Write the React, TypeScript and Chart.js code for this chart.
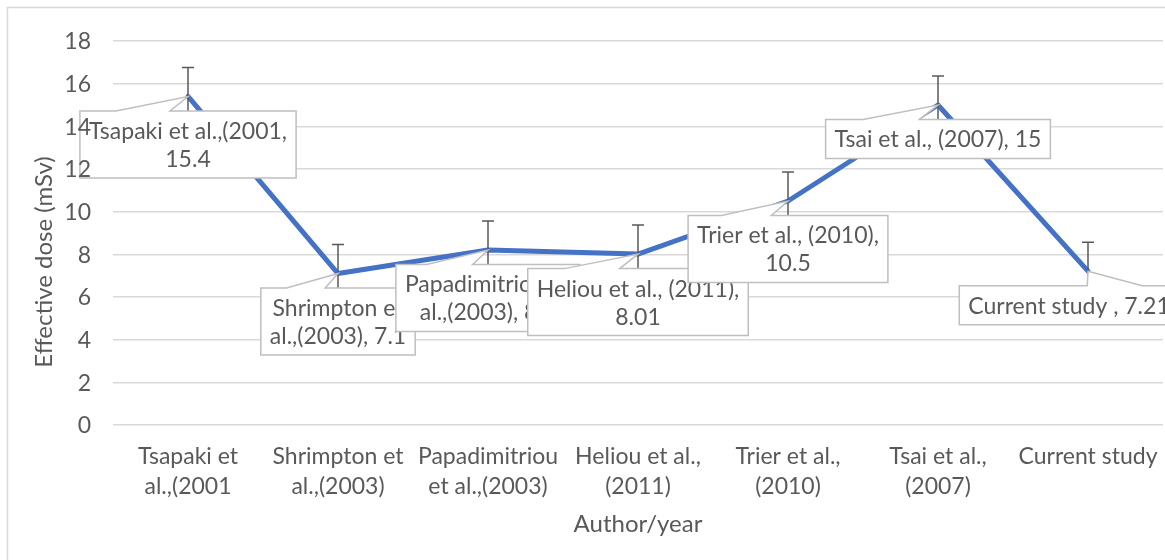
import React, { useEffect, useRef } from "react";
import { Chart, registerables } from "chart.js";

Chart.register(...registerables);

// ---- data ----
const categories = [
  "Tsapaki et al.,(2001",
  "Shrimpton et al.,(2003)",
  "Papadimitriou et al.,(2003)",
  "Heliou et al., (2011)",
  "Trier et al., (2010)",
  "Tsai et al., (2007)",
  "Current study ",
];
const tickLines = [
  ["Tsapaki et", "al.,(2001"],
  ["Shrimpton et", "al.,(2003)"],
  ["Papadimitriou", "et al.,(2003)"],
  ["Heliou et al.,", "(2011)"],
  ["Trier et al.,", "(2010)"],
  ["Tsai et al.,", "(2007)"],
  ["Current study"],
];
const doses = [15.4, 7.1, 8.2, 8.01, 10.5, 15, 7.21];
const errors = [1.36, 1.36, 1.36, 1.36, 1.36, 1.36, 1.36];
const yMin = 0;
const yMax = 18;
const yStep = 2;
const xTitle = "Author/year";
const yTitle = "Effective dose (mSv)";

// ---- styles ----
const FONT = "Lato, 'Noto Sans', sans-serif";
const TEXT = "#595959";
const GRID = "#d9d9d9";
const LINE = "#4472C4";
const calloutShift = [0, 0, 0, 0, 0, 0, -19];

function wrap(ctx: CanvasRenderingContext2D, text: string, maxW: number) {
  const words = text.split(" ");
  const lines: string[] = [];
  let cur = "";
  for (const w of words) {
    const t = cur ? cur + " " + w : w;
    if (cur && ctx.measureText(t).width > maxW) {
      lines.push(cur);
      cur = w;
    } else cur = t;
  }
  if (cur) lines.push(cur);
  return lines;
}

const overlay = {
  id: "overlay",
  beforeDraw(chart: any) {
    const ctx = chart.ctx;
    ctx.save();
    ctx.fillStyle = "#fff";
    ctx.fillRect(0, 0, chart.width, chart.height);
    ctx.strokeStyle = GRID;
    ctx.lineWidth = 1.5;
    ctx.strokeRect(7.5, 7.5, chart.width + 50, chart.height + 50);
    ctx.restore();
  },
  afterDatasetsDraw(chart: any) {
    const ctx: CanvasRenderingContext2D = chart.ctx;
    const xs = chart.scales.x;
    const ys = chart.scales.y;
    ctx.save();
    // error bars
    ctx.strokeStyle = "#595959";
    ctx.lineWidth = 1.5;
    doses.forEach((v, i) => {
      const x = xs.getPixelForValue(i);
      const yt = ys.getPixelForValue(v + errors[i]);
      const yb = ys.getPixelForValue(v - errors[i]);
      ctx.beginPath();
      ctx.moveTo(x, yt);
      ctx.lineTo(x, yb);
      ctx.moveTo(x - 6, yt);
      ctx.lineTo(x + 6, yt);
      ctx.moveTo(x - 6, yb);
      ctx.lineTo(x + 6, yb);
      ctx.stroke();
    });
    // callouts
    ctx.font = `23px ${FONT}`;
    const lineH = 28;
    const padX = 9;
    const padY = 5.5;
    const gap = 14.5;
    doses.forEach((v, i) => {
      const tipX = xs.getPixelForValue(i);
      const tipY = ys.getPixelForValue(v);
      const lines = wrap(ctx, `${categories[i]}, ${v}`, 222);
      const tw = Math.max(...lines.map((l) => ctx.measureText(l).width));
      const w = tw + 2 * padX;
      const h = lines.length * lineH + 2 * padY;
      const cx = tipX + calloutShift[i];
      const left = cx - w / 2;
      const top = tipY + gap;
      const dxPos = tipX - cx;
      const g1 = dxPos > 0 ? 7 : 2;
      const g2 = dxPos > 0 ? 10 : 5;
      const x1 = left + (w * g1) / 12;
      const x2 = left + (w * g2) / 12;
      ctx.beginPath();
      ctx.moveTo(left, top);
      ctx.lineTo(x1, top);
      ctx.lineTo(tipX, tipY);
      ctx.lineTo(x2, top);
      ctx.lineTo(left + w, top);
      ctx.lineTo(left + w, top + h);
      ctx.lineTo(left, top + h);
      ctx.closePath();
      ctx.fillStyle = "#fff";
      ctx.fill();
      ctx.strokeStyle = "#bfbfbf";
      ctx.lineWidth = 1.5;
      ctx.stroke();
      ctx.fillStyle = TEXT;
      ctx.textAlign = "center";
      ctx.textBaseline = "middle";
      lines.forEach((l, k) => {
        ctx.fillText(l, cx, top + padY + lineH / 2 + k * lineH + 1);
      });
    });
    ctx.restore();
  },
  afterDraw(chart: any) {
    const ctx: CanvasRenderingContext2D = chart.ctx;
    const ca = chart.chartArea;
    const ys = chart.scales.y;
    ctx.save();
    ctx.fillStyle = TEXT;
    // y tick labels drawn on top of the callouts
    ctx.font = `23px ${FONT}`;
    ctx.textAlign = "right";
    ctx.textBaseline = "middle";
    ys.ticks.forEach((t: any) => {
      ctx.fillText(String(t.value), ca.left - 22, ys.getPixelForValue(t.value) + 1);
    });
    // axis titles
    ctx.font = `24px ${FONT}`;
    ctx.textAlign = "center";
    ctx.fillText(xTitle, (ca.left + ca.right) / 2, ca.bottom + 99);
    ctx.translate(44, (ca.top + ca.bottom) / 2 + 29);
    ctx.rotate(-Math.PI / 2);
    ctx.fillText(yTitle, 0, 0);
    ctx.restore();
  },
};

export default function App() {
  const ref = useRef<HTMLCanvasElement | null>(null);
  useEffect(() => {
    if (!ref.current) return;
    const chart = new Chart(ref.current, {
      type: "line",
      data: {
        labels: tickLines as any,
        datasets: [
          {
            data: doses,
            borderColor: LINE,
            borderWidth: 5,
            pointRadius: 0,
            tension: 0,
            borderJoinStyle: "round",
            borderCapStyle: "round",
            fill: false,
          },
        ],
      },
      options: {
        animation: false,
        responsive: false,
        layout: { padding: { left: 8, top: 41, right: 2, bottom: 0 } },
        plugins: { legend: { display: false }, tooltip: { enabled: false } },
        scales: {
          x: {
            type: "category",
            offset: true,
            grid: { display: false, drawTicks: false },
            border: { display: false },
            ticks: {
              color: TEXT,
              font: { family: FONT, size: 23, lineHeight: 1.3 },
              padding: 17,
              maxRotation: 0,
              autoSkip: false,
            },
            afterFit: (s: any) => {
              s.height = 135;
              s.paddingLeft = 0;
              s.paddingRight = 0;
            },
          },
          y: {
            min: yMin,
            max: yMax,
            grid: { color: GRID, lineWidth: 1.5, drawTicks: false },
            border: { display: false },
            ticks: {
              stepSize: yStep,
              color: "rgba(0,0,0,0)",
              font: { family: FONT, size: 23 },
              padding: 22,
            },
            afterFit: (s: any) => {
              s.width = 105;
            },
          },
        },
      },
      plugins: [overlay],
    });
    return () => chart.destroy();
  }, []);
  return (
    <div style={{ position: "absolute", left: 0, top: 0, width: 1165, height: 560 }}>
      <canvas ref={ref} width={1165} height={560} style={{ display: "block" }} />
    </div>
  );
}
